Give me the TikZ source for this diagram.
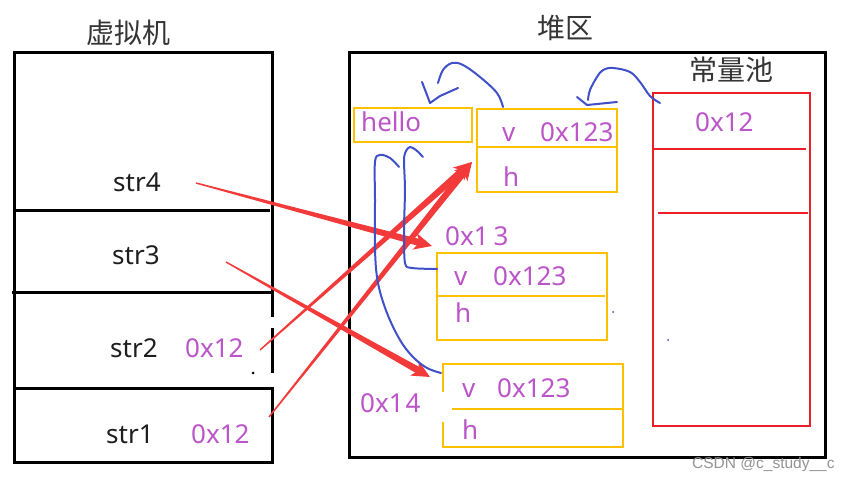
\documentclass[tikz,border=0pt]{standalone}
\usepackage{fontspec}
\setmainfont{Noto Sans}
\newfontfamily\cjk{Noto Sans CJK SC}
\newfontfamily\wmfont{Liberation Sans}
\usetikzlibrary{calc}
\definecolor{vpurple}{RGB}{187,85,200}
\definecolor{vyellow}{RGB}{255,192,0}
\definecolor{vred}{RGB}{236,30,40}
\definecolor{vared}{RGB}{242,58,58}
\definecolor{vblue}{RGB}{64,80,200}
\definecolor{vtext}{RGB}{30,30,30}
\newcommand\tarrow[2]{%
  \coordinate (#2-hb) at ($(#2)!11pt!(#1)$);
  \coordinate (#2-hl) at ($(#2)!18pt!(#1)$);
  \coordinate (#2-hn) at ($(#2)!13pt!(#1)$);
  \fill[vared] ($(#1)!0.7pt!90:(#2)$) -- ($(#2-hb)!3.5pt!90:(#2)$) --
    ($(#2-hb)!3.5pt!-90:(#2)$) -- ($(#1)!0.7pt!-90:(#2)$) -- cycle;
  \fill[vared] (#2) -- ($(#2-hl)!8.5pt!90:(#2)$) -- (#2-hn) --
    ($(#2-hl)!8.5pt!-90:(#2)$) -- cycle;
}
\begin{document}
\begin{tikzpicture}[x=1pt,y=-1pt,
  frame/.style={draw=black, line width=3pt},
  ybox/.style={draw=vyellow, line width=2.5pt, inner sep=0pt, outer sep=0pt, anchor=north west},
  cbox/.style={draw=vred, line width=2.5pt},
  lbl/.style={anchor=base west, inner sep=0pt, text=vtext, font=\fontsize{26}{30}\selectfont},
  val/.style={lbl, text=vpurple},
  ttl/.style={font=\cjk\fontsize{28}{32}\selectfont, text=vtext!90, inner sep=0pt},
  bluecurve/.style={draw=vblue, line width=2pt, line cap=round, line join=round},
  area/.style={inner sep=0pt, outer sep=0pt, anchor=north west}]
\useasboundingbox[fill=white] (0,0) rectangle (843,481);

% ---------- titles ----------
\node[ttl] (tvm) at (128,33) {虚拟机};
\node[ttl] (theap) at (565,28) {堆区};
\node[ttl] (tpool) at (731,70) {常量池};

% ---------- virtual machine stack ----------
\node[area, minimum width=258pt, minimum height=409pt] (vm) at (14,53) {};
\draw[frame] (272,317) -- (272,53) -- (14,53) -- (14,462) -- (272,462) -- (272,387);
\draw[frame] (272,328) -- (272,373);
\draw[frame] (14,211) -- (270,211);
\draw[frame] (12,292) -- (272,292);
\draw[frame] (14,388) -- (274,388);
\fill[black] (253,373) circle (1.5pt);

\node[lbl] (s4) at (113,192) {str4};
\node[lbl] (s3) at (112,264) {str3};
\node[lbl] (s2) at (110,357) {str2};
\node[val] (v2) at (185,357) {0x12};
\node[lbl] (s1) at (106,443) {str1};
\node[val] (v1) at (191,443) {0x12};

% ---------- heap ----------
\node[area, draw=black, line width=3pt, minimum width=476pt, minimum height=404pt] (heap) at (349,53) {};

% constant pool
\node[area, draw=vred, line width=2.5pt, minimum width=157pt, minimum height=333pt] (pool) at (653,93) {};
\draw[cbox] (653,149) -- (806,149);
\draw[cbox] (658,213) -- (808,213);
\node[val] (pv) at (695,132) {0x12};

% hello
\node[ybox, minimum width=118pt, minimum height=34pt] (hello) at (354,108) {};
\node[val] (thello) at (361,132) {hello};

% object 1
\node[ybox, minimum width=140pt, minimum height=83pt] (o1) at (477,109) {};
\draw[draw=vyellow, line width=2.5pt] (477,147) -- (617,147);
\node[val] (o1v) at (502,142) {v};
\node[val] (o1a) at (540,142) {0x123};
\node[val] (o1h) at (503,187) {h};

% object 2
\node[ybox, minimum width=170pt, minimum height=87pt] (o2) at (437,253) {};
\draw[draw=vyellow, line width=2.5pt] (437,296) -- (605,296);
\node[val] (o2v) at (454,285) {v};
\node[val] (o2a) at (493,285) {0x123};
\node[val] (o2h) at (455,322) {h};
\node[val] (o2n) at (445,245) {0x1\hspace{5pt}3};

% object 3
\node[area, minimum width=180pt, minimum height=83pt] (o3) at (443,364) {};
\draw[draw=vyellow, line width=2.5pt] (443,392) -- (443,364) -- (623,364) -- (623,447) -- (443,447) -- (443,422);
\draw[draw=vyellow, line width=2.5pt] (452,409) -- (623,409);
\node[val] (o3v) at (462,397) {v};
\node[val] (o3a) at (497,397) {0x123};
\node[val] (o3h) at (462,439) {h};
\node[val] (o3n) at (360,412) {0x1\hspace{2pt}4};

% stray dots
\fill[vblue] (613,312) circle (1pt);
\fill[vblue] (668,340) circle (1pt);

% ---------- red reference arrows ----------
\coordinate (a4) at (196,183);
\coordinate (a3) at (226,262);
\coordinate (a2) at (260,350);
\coordinate (a1) at (269,417);
\coordinate (t4) at (432,246);
\coordinate (t3) at (430,377);
\coordinate (t2) at (472,162);
\coordinate (t1) at (472,162);
\tarrow{a4}{t4}
\tarrow{a3}{t3}
\tarrow{a2}{t2}
\tarrow{a1}{t1}

% ---------- blue hand-drawn arrows ----------
% object 1 -> hello
\coordinate (b1s) at (503,107);
\draw[bluecurve] plot[smooth, tension=0.6] coordinates
  {(b1s) (497,93) (480,77) (463,65) (452,63) (443,70) (438,83)};
\draw[bluecurve] (422,82) -- (427,95) -- (430,103) -- (440,96) -- (458,88);

% constant pool -> object 1
\coordinate (b2s) at (660,103);
\draw[bluecurve] plot[smooth, tension=0.6] coordinates
  {(b2s) (650,96) (640,82) (630,72) (613,68) (603,70) (597,77) (590,90) (588,100)};
\draw[bluecurve] (577,97) -- (587,105) -- (617,102);

% object 2 -> hello
\coordinate (b3s) at (437,269);
\draw[bluecurve] plot[smooth, tension=0.5] coordinates
  {(b3s) (412,268) (405,263) (404,230) (405,190) (404,160) (406,151) (410,147) (416,150) (423,157)};

% object 3 -> hello
\coordinate (b4s) at (441,373);
\draw[bluecurve] plot[smooth, tension=0.6] coordinates
  {(b4s) (427,368) (413,357) (400,340) (387,313) (378,283) (375,250) (375,200) (375,162) (380,155) (390,158) (399,167)};

% watermark
\node[inner sep=0pt, anchor=base west, text=black!42, font=\wmfont\fontsize{15.5}{18}\selectfont] (wm) at (692,468) {CSDN @c\_study\_\_c};
\end{tikzpicture}
\end{document}
